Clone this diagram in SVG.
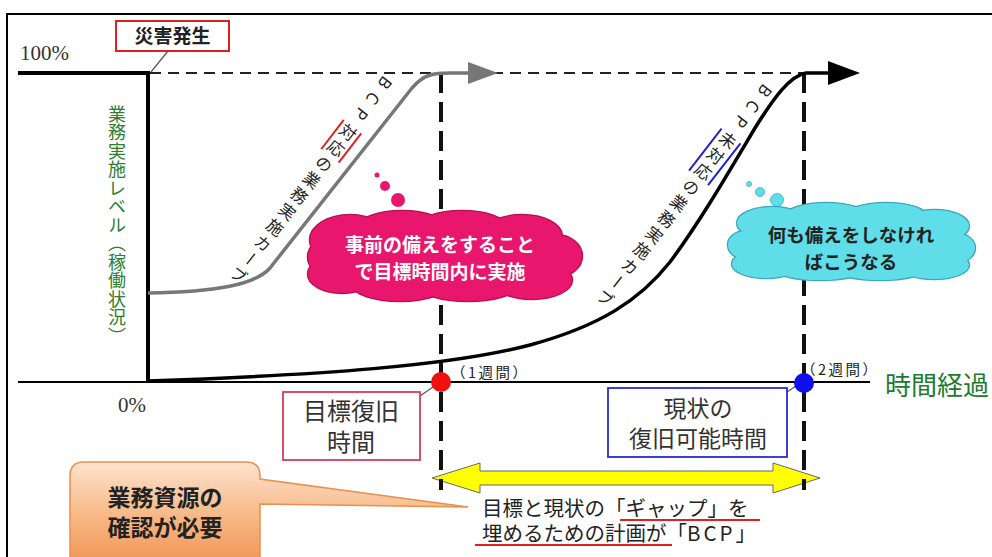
<svg xmlns="http://www.w3.org/2000/svg" width="992" height="557" viewBox="0 0 992 557">
<defs>
<style>
.jp{font-family:"Noto Sans CJK JP","Noto Sans",sans-serif}
.serif{font-family:"Liberation Serif",serif;font-size:21px;fill:#333}
.vlbl{writing-mode:vertical-rl;font-family:"Noto Sans CJK JP",sans-serif;font-size:16.5px;fill:#222;letter-spacing:3.5px}
.boxtxt{font-family:"Noto Sans CJK JP",sans-serif;font-size:23px;fill:#333;text-anchor:middle}
.wk{font-family:"Noto Sans CJK JP",sans-serif;font-size:14.5px;fill:#222;letter-spacing:2.5px;text-spacing-trim:space-all}
.vdash{stroke:#111;stroke-width:4;stroke-dasharray:20 9;fill:none}
.leader{stroke:#555;stroke-width:1.2;fill:none}
.ul{stroke:#e02020;stroke-width:2}
</style>
<marker id="ahGray" viewBox="0 0 30 22" refX="2" refY="11" markerWidth="30" markerHeight="22" markerUnits="userSpaceOnUse" orient="auto">
<path d="M0,0 L30,11 L0,22 Z" fill="#777"/>
</marker>
<marker id="ahBlack" viewBox="0 0 32 24" refX="2" refY="12" markerWidth="32" markerHeight="24" markerUnits="userSpaceOnUse" orient="auto">
<path d="M0,0 L32,12 L0,24 Z" fill="#000"/>
</marker>
<linearGradient id="orangeGrad" x1="0" y1="0" x2="0" y2="1">
<stop offset="0" stop-color="#fde3cf"/>
<stop offset="0.5" stop-color="#f7b885"/>
<stop offset="1" stop-color="#f09050"/>
</linearGradient>
<g id="pinkShape">
<ellipse cx="350" cy="240" rx="40" ry="25"/>
<ellipse cx="402" cy="229" rx="45" ry="18"/>
<ellipse cx="462" cy="228" rx="45" ry="17"/>
<ellipse cx="522" cy="236" rx="40" ry="21"/>
<ellipse cx="556" cy="256" rx="26" ry="21"/>
<ellipse cx="532" cy="280" rx="40" ry="19"/>
<ellipse cx="468" cy="285" rx="50" ry="16"/>
<ellipse cx="400" cy="284" rx="48" ry="17"/>
<ellipse cx="342" cy="274" rx="34" ry="19"/>
<ellipse cx="326" cy="257" rx="18" ry="17"/>
<ellipse cx="444" cy="256" rx="118" ry="32"/>
</g>
<g id="cyanShape">
<ellipse cx="772" cy="223" rx="35" ry="16"/>
<ellipse cx="826" cy="216" rx="40" ry="13"/>
<ellipse cx="886" cy="216" rx="40" ry="13"/>
<ellipse cx="935" cy="226" rx="34" ry="16"/>
<ellipse cx="958" cy="248" rx="17" ry="14"/>
<ellipse cx="934" cy="265" rx="35" ry="14"/>
<ellipse cx="880" cy="269" rx="45" ry="11"/>
<ellipse cx="820" cy="269" rx="45" ry="11"/>
<ellipse cx="766" cy="264" rx="34" ry="14"/>
<ellipse cx="746" cy="245" rx="18" ry="14"/>
<ellipse cx="851" cy="243" rx="105" ry="25"/>
</g>
</defs>

<rect x="0" y="0" width="992" height="557" fill="#fff"/>
<rect id="frame" x="7" y="14" width="1000" height="600" fill="#fff" stroke="#000" stroke-width="2"/>

<g id="axes">
<line x1="18" y1="382" x2="870" y2="382" stroke="#000" stroke-width="1.8"/>
<line x1="150" y1="73" x2="806" y2="73" stroke="#222" stroke-width="2" stroke-dasharray="11 7"/>
<text class="serif" x="20" y="60">100%</text>
<text class="serif" x="118" y="412">0%</text>
<text class="jp" x="117" y="105" style="writing-mode:vertical-rl;font-size:18px;letter-spacing:0.5px;fill:#2e7d32">業務実施レベル（稼働状況）</text>
<text class="jp" x="885" y="395" style="font-size:26px;fill:#1e7a30">時間経過</text>
</g>

<g id="yellow-arrow">
<polygon points="432,478 480,463 480,471 773,471 773,463 820,478 773,493 773,485 480,485 480,493" fill="#ffff00" stroke="#666" stroke-width="1"/>
</g>

<g id="connectors">
<line class="vdash" x1="441" y1="73" x2="441" y2="490"/>
<line class="vdash" x1="804" y1="73" x2="804" y2="490"/>
<path d="M18,73 H148 V382" fill="none" stroke="#000" stroke-width="4"/>
<path d="M148,293 C215,292 255,285 270,268 L412,88 C424,74 434,73 450,73 L470,73" fill="none" stroke="#777" stroke-width="3.5" marker-end="url(#ahGray)"/>
<path d="M148,381 C320,375 450,366 530,345 C600,326 640,300 670,262 C700,222 730,170 755,128 C775,96 790,76 806,73 L830,73" fill="none" stroke="#000" stroke-width="3.5" marker-end="url(#ahBlack)"/>
<line class="leader" x1="168" y1="51" x2="151" y2="72"/>
<line class="leader" x1="420" y1="396" x2="433" y2="387"/>
<line class="leader" x1="787" y1="392" x2="796" y2="386"/>
</g>

<g id="disaster">
<rect x="116" y="21" width="113" height="30" fill="#fff" stroke="#e02020" stroke-width="2"/>
<text class="jp" x="172.5" y="43" text-anchor="middle" style="font-size:19px;font-weight:bold;fill:#222">災害発生</text>
</g>

<g id="bcp-curve-label">
<g transform="translate(389,79) rotate(37.5)">
<text class="vlbl" x="0" y="0"><tspan style="letter-spacing:9px">BCP</tspan>対応の業務実施カーブ</text>
<line class="ul" x1="-11" y1="60" x2="-11" y2="97"/>
<line class="ul" x1="11" y1="60" x2="11" y2="97"/>
</g>
</g>

<g id="nobcp-curve-label">
<g transform="translate(769,87) rotate(37.8)">
<text class="vlbl" x="0" y="0"><tspan style="letter-spacing:9px">BCP</tspan>未対応の業務実施カーブ</text>
<line x1="-12" y1="62" x2="-12" y2="115" stroke="#2020d0" stroke-width="2"/>
<line x1="12" y1="62" x2="12" y2="115" stroke="#2020d0" stroke-width="2"/>
</g>
</g>

<g id="pink-cloud">
<circle cx="377" cy="175" r="2.5" fill="#e8166c"/>
<circle cx="385" cy="186" r="5" fill="#e8166c"/>
<circle cx="398" cy="200" r="7" fill="#e8166c"/>
<use href="#pinkShape" fill="#e8166c" stroke="#b80f52" stroke-width="2.5"/>
<use href="#pinkShape" fill="#e8166c"/>
<text class="jp" x="440" y="252" text-anchor="middle" style="font-size:19px;font-weight:bold;fill:#fff">事前の備えをすること</text>
<text class="jp" x="440" y="279" text-anchor="middle" style="font-size:19px;font-weight:bold;fill:#fff">で目標時間内に実施</text>
</g>

<g id="cyan-cloud">
<circle cx="749" cy="184" r="2.5" fill="#5fdde8" stroke="#3ab0c0" stroke-width="0.8"/>
<circle cx="760" cy="192" r="4.5" fill="#5fdde8" stroke="#3ab0c0" stroke-width="0.8"/>
<circle cx="777" cy="200" r="6.5" fill="#5fdde8" stroke="#3ab0c0" stroke-width="0.8"/>
<use href="#cyanShape" fill="#5fdde8" stroke="#3aa8b8" stroke-width="2.5"/>
<use href="#cyanShape" fill="#5fdde8"/>
<text class="jp" x="851" y="242" text-anchor="middle" style="font-size:18.5px;font-weight:bold;fill:#222">何も備えをしなけれ</text>
<text class="jp" x="851" y="269" text-anchor="middle" style="font-size:18.5px;font-weight:bold;fill:#222">ばこうなる</text>
</g>

<g id="points">
<circle cx="441" cy="382" r="10" fill="#f01010"/>
<circle cx="804" cy="383" r="10" fill="#1010ee"/>
<text class="wk" x="451" y="378">（1週間）</text>
<text class="wk" x="801" y="375">（2週間）</text>
</g>

<g id="target-box">
<rect x="283" y="392" width="137" height="68" fill="#fff" stroke="#d83a5a" stroke-width="1.8"/>
<text class="boxtxt" x="351" y="420" style="font-size:24px">目標復旧</text>
<text class="boxtxt" x="351" y="451" style="font-size:24px">時間</text>
</g>

<g id="current-box">
<rect x="608" y="388" width="179" height="69" fill="#fff" stroke="#2a2ad0" stroke-width="1.8"/>
<text class="boxtxt" x="698" y="417">現状の</text>
<text class="boxtxt" x="698" y="447">復旧可能時間</text>
</g>

<g id="gap-text">
<text class="jp" x="482" y="516" style="font-size:20.5px;fill:#222">目標と現状の「ギャップ」を</text>
<text class="jp" x="482" y="541" style="font-size:20.5px;fill:#222">埋めるための計画が「<tspan style="letter-spacing:3px">BCP</tspan>」</text>
<line class="ul" x1="620" y1="520" x2="760" y2="520"/>
<line class="ul" x1="475" y1="545" x2="672" y2="545"/>
</g>

<g id="resource-callout">
<path d="M84,462 H246 Q260,462 260,476 V479 L468,507 L260,504 V570 H70 V476 Q70,462 84,462 Z" fill="url(#orangeGrad)" stroke="#e8904f" stroke-width="1.5"/>
<text class="jp" x="165" y="506" text-anchor="middle" style="font-size:23px;font-weight:bold;fill:#222">業務資源の</text>
<text class="jp" x="165" y="536" text-anchor="middle" style="font-size:23px;font-weight:bold;fill:#222">確認が必要</text>
</g>
</svg>
